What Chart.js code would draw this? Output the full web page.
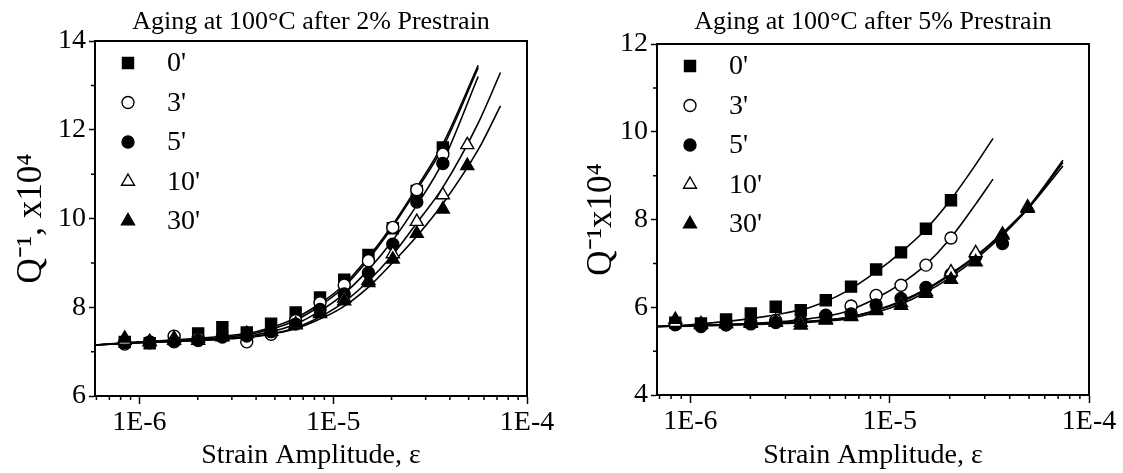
<!DOCTYPE html>
<html>
<head>
<meta charset="utf-8">
<script src="https://cdn.jsdelivr.net/npm/chart.js@4.4.1/dist/chart.umd.min.js"></script>
<style>
  html, body { margin: 0; padding: 0; background: #fff; }
  #wrap { position: relative; width: 1123px; height: 473px; }
  canvas { position: absolute; top: 0; }
</style>
</head>
<body>
<div id="wrap">
  <canvas id="chart2" width="561" height="473" style="left:0"></canvas>
  <canvas id="chart5" width="562" height="473" style="left:561px"></canvas>
</div>
<script>
// strain amplitudes of the measured points (shared by both panels)
const strain = [8.4e-7, 1.13e-6, 1.51e-6, 2.01e-6, 2.68e-6, 3.58e-6, 4.78e-6, 6.4e-6,
                8.55e-6, 1.14e-5, 1.52e-5, 2.03e-5, 2.7e-5, 3.68e-5, 4.92e-5];
const agingTimes = ["0'", "3'", "5'", "10'", "30'"];

// 2% prestrain, Q^-1 x10^4
const pre2_t0  = [7.22, 7.19, 7.28, 7.41, 7.55, 7.43, 7.63, 7.88, 8.22, 8.62, 9.18, 9.78, 10.62, 11.6];
const pre2_t3  = [7.17, 7.2, 7.35, 7.3, 7.35, 7.22, 7.39, 7.7, 8.1, 8.5, 9.05, 9.8, 10.65, 11.45];
const pre2_t5  = [7.2, 7.22, 7.22, 7.25, 7.33, 7.35, 7.45, 7.62, 7.95, 8.3, 8.78, 9.42, 10.37, 11.24];
const pre2_t10 = [7.25, 7.22, 7.3, 7.3, 7.35, 7.4, 7.45, 7.6, 7.9, 8.2, 8.6, 9.2, 9.93, 10.53, 11.66];
const pre2_t30 = [7.3, 7.22, 7.25, 7.25, 7.33, 7.4, 7.45, 7.62, 7.85, 8.14, 8.55, 9.08, 9.66, 10.21, 11.19];

// fitted curves, 2% prestrain
const fit2X    = [5.9e-7, 1e-6, 2e-6, 3e-6, 4e-6, 6e-6, 8e-6, 1.1e-5, 1.5e-5, 2e-5, 2.7e-5, 3.7e-5, 5.6e-5, 7.3e-5];
const fit2_t0  = [7.15, 7.22, 7.3, 7.37, 7.45, 7.7, 8.0, 8.45, 9.1, 9.82, 10.7, 11.7, 13.45, null];
const fit2_t3  = [7.15, 7.21, 7.28, 7.34, 7.42, 7.65, 7.95, 8.4, 9.05, 9.78, 10.65, 11.62, 13.4, null];
const fit2_t5  = [7.15, 7.2, 7.26, 7.31, 7.38, 7.57, 7.84, 8.25, 8.82, 9.47, 10.3, 11.3, 13.2, null];
const fit2_t10 = [7.15, 7.2, 7.25, 7.3, 7.35, 7.5, 7.72, 8.07, 8.57, 9.15, 9.9, 10.72, 12.15, 13.29];
const fit2_t30 = [7.15, 7.2, 7.25, 7.29, 7.34, 7.48, 7.68, 7.98, 8.43, 8.98, 9.6, 10.35, 11.55, 12.54];

// 5% prestrain, Q^-1 x10^4
const pre5_t0  = [5.65, 5.63, 5.72, 5.86, 6.01, 5.93, 6.16, 6.47, 6.86, 7.25, 7.79, 8.44];
const pre5_t3  = [5.6, 5.58, 5.6, 5.65, 5.7, 5.68, 5.8, 6.03, 6.27, 6.5, 6.96, 7.58];
const pre5_t5  = [5.62, 5.56, 5.6, 5.62, 5.65, 5.68, 5.82, 5.85, 6.05, 6.2, 6.45, 6.75, 7.15, 7.45];
const pre5_t10 = [5.65, 5.6, 5.62, 5.65, 5.68, 5.65, 5.72, 5.8, 5.95, 6.1, 6.35, 6.8, 7.24, 7.64, 8.28];
const pre5_t30 = [5.72, 5.62, 5.62, 5.63, 5.65, 5.59, 5.7, 5.78, 5.92, 6.04, 6.31, 6.63, 7.03, 7.66, 8.25];

// fitted curves, 5% prestrain
const fit5X    = [6.8e-7, 1e-6, 2e-6, 3e-6, 4e-6, 6e-6, 8.5e-6, 1.15e-5, 1.5e-5, 2e-5, 2.7e-5, 3.3e-5, 3.7e-5, 5e-5, 7.4e-5];
const fit5_t0  = [5.56, 5.6, 5.74, 5.87, 6.0, 6.35, 6.8, 7.27, 7.75, 8.42, 9.25, 9.85, null, null, null];
const fit5_t3  = [5.56, 5.58, 5.63, 5.68, 5.74, 5.9, 6.2, 6.55, 6.95, 7.55, 8.35, 8.92, null, null, null];
const fit5_t5  = [5.56, 5.58, 5.62, 5.65, 5.68, 5.76, 5.93, 6.15, 6.4, 6.75, 7.17, 7.5, 7.7, 8.3, 9.35];
const fit5_t10 = [5.56, 5.58, 5.62, 5.65, 5.68, 5.76, 5.92, 6.13, 6.38, 6.73, 7.15, 7.48, 7.68, 8.28, 9.3];
const fit5_t30 = [5.56, 5.57, 5.6, 5.63, 5.66, 5.73, 5.88, 6.08, 6.33, 6.67, 7.1, 7.44, 7.65, 8.27, 9.22];

const xTickValues = [1e-6, 1e-5, 1e-4];

const FONT = "'Liberation Serif', 'Times New Roman', serif";
const markers = [
  { pointStyle: 'rect', radius: 7.8, fill: '#000' },
  { pointStyle: 'circle', radius: 6, fill: '#fff' },
  { pointStyle: 'circle', radius: 6, fill: '#000' },
  { pointStyle: 'triangle', radius: 7.5, fill: '#fff' },
  { pointStyle: 'triangle', radius: 7.5, fill: '#000' }
];

// box, minor ticks and the legend inside the plot
const extras = {
  id: 'extras',
  afterDraw(chart) {
    const ctx = chart.ctx;
    const a = chart.chartArea;
    const xs = chart.scales.x, ys = chart.scales.y;
    ctx.save();
    ctx.strokeStyle = '#000';
    ctx.lineWidth = 2;
    ctx.strokeRect(a.left, a.top, a.right - a.left, a.bottom - a.top);

    ctx.lineWidth = 1.5;
    ctx.beginPath();
    for (let d = Math.floor(Math.log10(xs.min)); d <= Math.ceil(Math.log10(xs.max)); d++) {
      for (let k = 2; k <= 9; k++) {
        const v = k * Math.pow(10, d);
        if (v < xs.min || v > xs.max) continue;
        const px = xs.getPixelForValue(v);
        ctx.moveTo(px, a.bottom);
        ctx.lineTo(px, a.bottom + 4);
      }
    }
    for (let v = ys.min + 1; v < ys.max; v += 2) {
      const py = ys.getPixelForValue(v);
      ctx.moveTo(a.left - 4, py);
      ctx.lineTo(a.left, py);
    }
    ctx.stroke();

    // legend
    const opts = chart.options.plugins.extras;
    ctx.font = '28px ' + FONT;
    ctx.textBaseline = 'middle';
    ctx.textAlign = 'left';
    agingTimes.forEach((label, i) => {
      const m = markers[i];
      const cx = a.left + 33, cy = a.top + opts.legendTop + i * 39.5;
      ctx.fillStyle = m.fill;
      ctx.strokeStyle = '#000';
      ctx.lineWidth = 1.4;
      Chart.helpers.drawPoint(ctx, { pointStyle: m.pointStyle, radius: m.radius, rotation: 0, borderWidth: 1.4 }, cx, cy);
      ctx.fillStyle = '#000';
      ctx.fillText(label, a.left + 72, cy + 1);
    });
    ctx.restore();
  }
};

function makeChart(id, o) {
  const datasets = [];
  o.series.forEach((vals, i) => {
    const m = markers[i];
    datasets.push({
      label: agingTimes[i],
      data: vals.map((v, j) => ({ x: strain[j], y: v })),
      showLine: false,
      pointStyle: m.pointStyle,
      pointRadius: m.radius,
      pointBackgroundColor: m.fill,
      pointBorderColor: '#000',
      pointBorderWidth: 1.4,
      order: 5 - i
    });
  });
  o.fits.forEach((vals, i) => {
    datasets.push({
      label: agingTimes[i] + ' fit',
      data: o.fitX.map((x, j) => ({ x: x, y: vals[j] })).filter(p => p.y !== null),
      showLine: true,
      borderColor: '#000',
      borderWidth: 1.6,
      pointRadius: 0,
      cubicInterpolationMode: 'monotone',
      order: 10
    });
  });

  return new Chart(document.getElementById(id), {
    type: 'scatter',
    data: { datasets },
    options: {
      responsive: false,
      devicePixelRatio: 1,
      animation: false,
      layout: { padding: { left: 0, right: o.padRight, top: 0, bottom: 0 } },
      plugins: {
        legend: { display: false },
        tooltip: { enabled: false },
        title: {
          display: true,
          fullSize: false,
          text: o.title,
          color: '#000',
          font: { family: FONT, size: 26, weight: 'normal', lineHeight: 1.2 },
          padding: { top: 7, bottom: o.titleBottom }
        },
        extras: { legendTop: 22 }
      },
      scales: {
        x: {
          type: 'logarithmic',
          position: 'bottom',
          min: o.xMin,
          max: 1e-4,
          afterBuildTicks: s => { s.ticks = xTickValues.map(v => ({ value: v })); },
          afterFit: s => { s.height = o.xAxisHeight; },
          ticks: {
            color: '#000',
            font: { family: FONT, size: 28 },
            padding: 2,
            maxRotation: 0,
            autoSkip: false,
            callback: v => '1E' + Math.round(Math.log10(v))
          },
          grid: { display: true, drawOnChartArea: false, drawTicks: true, tickLength: 8, tickWidth: 1.5, tickColor: '#000', color: '#000' },
          border: { display: true, color: '#000', width: 2 },
          title: {
            display: true,
            text: 'Strain Amplitude, ε',
            color: '#000',
            font: { family: FONT, size: 28, lineHeight: 1.2 },
            padding: { top: 0, bottom: 1 }
          }
        },
        y: {
          type: 'linear',
          min: o.yMin,
          max: o.yMax,
          afterFit: s => { s.width = o.yAxisWidth; },
          ticks: { stepSize: 2, color: '#000', font: { family: FONT, size: 28 }, padding: 3 },
          grid: { display: true, drawOnChartArea: false, drawTicks: true, tickLength: 6, tickWidth: 1.5, tickColor: '#000', color: '#000' },
          border: { display: true, color: '#000', width: 2 },
          title: {
            display: true,
            text: o.yTitle,
            color: '#000',
            font: { family: FONT, size: 35, lineHeight: 1.2 },
            padding: { top: o.yTitlePad, bottom: 0 }
          }
        }
      }
    },
    plugins: [extras]
  });
}

makeChart('chart2', {
  title: 'Aging at 100°C after 2% Prestrain',
  yTitle: 'Q⁻¹, x10⁴',
  yMin: 6, yMax: 14,
  xMin: 5.9e-7,
  series: [pre2_t0, pre2_t3, pre2_t5, pre2_t10, pre2_t30],
  fitX: fit2X,
  fits: [fit2_t0, fit2_t3, fit2_t5, fit2_t10, fit2_t30],
  padRight: 34, titleBottom: 2.8, xAxisHeight: 77, yAxisWidth: 95, yTitlePad: 11
});

makeChart('chart5', {
  title: 'Aging at 100°C after 5% Prestrain',
  yTitle: 'Q⁻¹x10⁴',
  yMin: 4, yMax: 12,
  xMin: 6.8e-7,
  series: [pre5_t0, pre5_t3, pre5_t5, pre5_t10, pre5_t30],
  fitX: fit5X,
  fits: [fit5_t0, fit5_t3, fit5_t5, fit5_t10, fit5_t30],
  padRight: 34, titleBottom: 5.8, xAxisHeight: 78, yAxisWidth: 96, yTitlePad: 20
});
</script>
</body>
</html>
